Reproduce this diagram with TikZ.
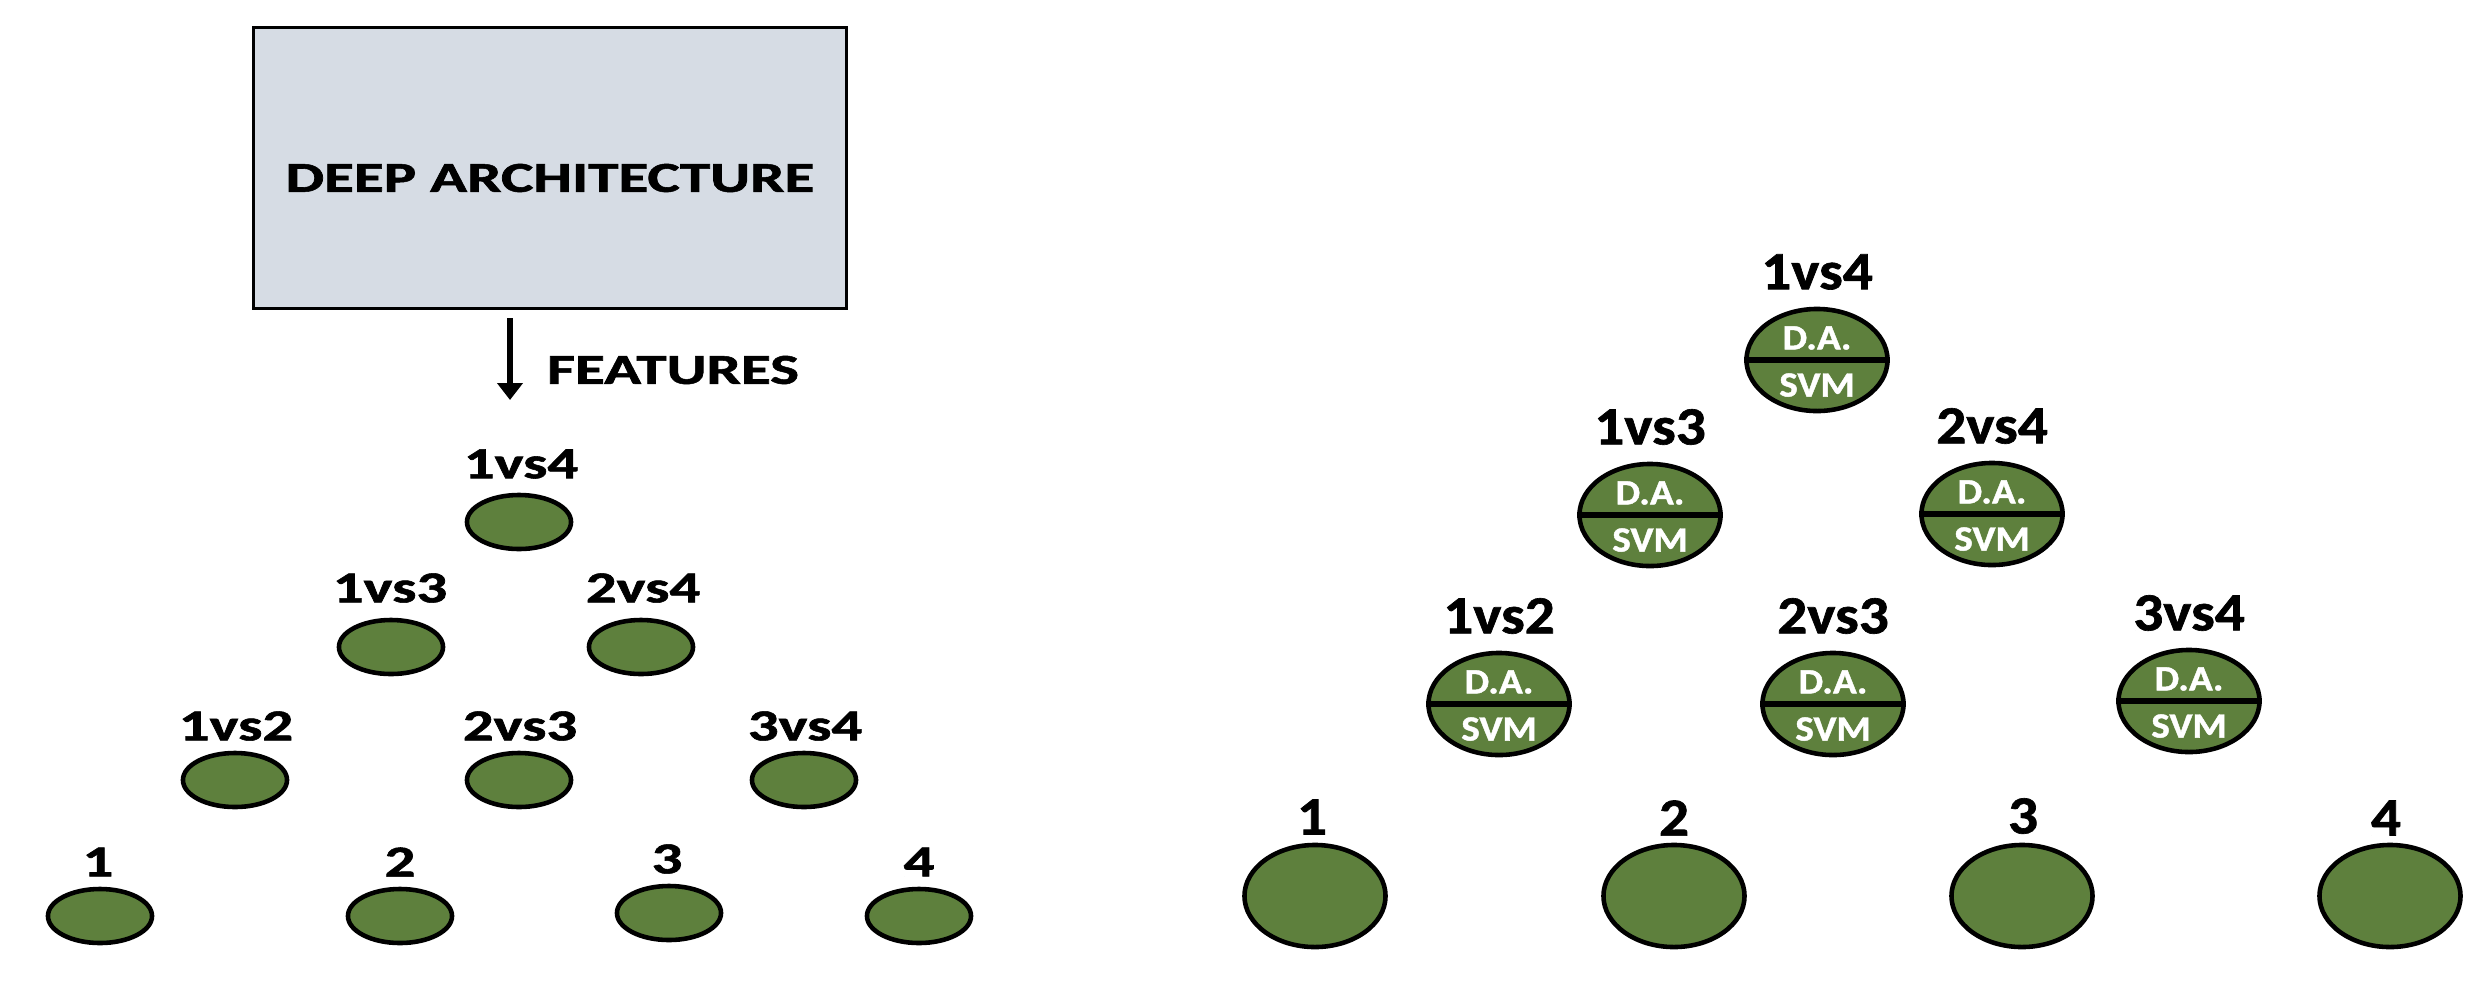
\documentclass[tikz,border=0pt]{standalone}
\usepackage{fontspec}
\setmainfont{Carlito}[BoldFeatures={FakeBold=1.2}]
\usepackage{graphicx}
\usetikzlibrary{shapes.geometric,arrows.meta}
\definecolor{leaf}{RGB}{94,128,61}
\definecolor{boxfill}{RGB}{214,220,228}
\newcommand\wideL[1]{\scalebox{1.37}[1]{#1}}
\newcommand\wideR[1]{\scalebox{1.1}[1]{#1}}
\newcommand\wideT[1]{\scalebox{1.43}[1]{#1}}
\begin{document}
\begin{tikzpicture}[x=0.01cm,y=-0.01cm,
  smallnode/.style={ellipse, draw=black, line width=1.3pt, fill=leaf, minimum width=1.04cm, minimum height=0.54cm, inner sep=0pt},
  bignode/.style={smallnode, minimum width=1.41cm, minimum height=1.02cm},
  lbl/.style={inner sep=0pt, font=\fontsize{12.6}{14}\selectfont\bfseries},
  rlbl/.style={inner sep=0pt, font=\fontsize{15.3}{18}\selectfont\bfseries},
  intext/.style={inner sep=0pt, text=white, font=\fontsize{10.1}{12}\selectfont\bfseries},
  titletext/.style={inner sep=0pt, font=\fontsize{12.15}{14}\selectfont\bfseries},
  archbox/.style={draw=black, line width=1pt, fill=boxfill, minimum width=5.93cm, minimum height=2.81cm, inner sep=0pt},
  divider/.style={line width=1.8pt},
  featarrow/.style={line width=1.7pt, -{Triangle[width=0.25cm,length=0.17cm]}}
]
\useasboundingbox (0,0) rectangle (2490,984);

% ---------- left panel ----------
\node[archbox] (arch) at (550,168) {};
\node[titletext] (archtxt) at (550,178) {\wideT{DEEP ARCHITECTURE}};
\coordinate (ftop) at (510,318);
\coordinate (fbot) at (510,400);
\draw[featarrow] (ftop) -- (fbot);
\node[titletext] (feat) at (673,370) {\wideT{FEATURES}};

\node[smallnode] (a14) at (519,522) {};
\node[smallnode] (a13) at (391,647) {};
\node[smallnode] (a24) at (641,647) {};
\node[smallnode] (a12) at (235,780) {};
\node[smallnode] (a23) at (519,780) {};
\node[smallnode] (a34) at (804,780) {};
\node[smallnode] (a1) at (100,916) {};
\node[smallnode] (a2) at (400,916) {};
\node[smallnode] (a3) at (669,913) {};
\node[smallnode] (a4) at (919,916) {};

\node[lbl] (la14) at (521,464) {\wideL{1vs4}};
\node[lbl] (la13) at (390,588) {\wideL{1vs3}};
\node[lbl] (la24) at (643,588) {\wideL{2vs4}};
\node[lbl] (la12) at (236,726) {\wideL{1vs2}};
\node[lbl] (la23) at (520,726) {\wideL{2vs3}};
\node[lbl] (la34) at (805,726) {\wideL{3vs4}};
\node[lbl] (la1) at (98,862) {\wideL{1}};
\node[lbl] (la2) at (400,862) {\wideL{2}};
\node[lbl] (la3) at (667,859) {\wideL{3}};
\node[lbl] (la4) at (919,862) {\wideL{4}};

% ---------- right panel ----------
\foreach \n/\x/\y/\t in {r14/1817/360/1vs4, r13/1650/515/1vs3, r24/1992/514/2vs4,
                          r12/1499/704/1vs2, r23/1833/704/2vs3, r34/2189/701/3vs4}{
  \node[bignode] (\n) at (\x,\y) {};
  \draw[divider] (\n.west) -- (\n.east);
  \node[intext] (\n da) at ([yshift=0.22cm]\n.center) {\wideR{D.A.}};
  \node[intext] (\n svm) at ([yshift=-0.25cm]\n.center) {\wideR{SVM}};
  \node[rlbl] (\n lbl) at ([yshift=0.88cm]\n.center) {\wideR{\t}};
}

\node[bignode] (r1) at (1315,896) {};
\node[bignode] (r2) at (1674,896) {};
\node[bignode] (r3) at (2022,896) {};
\node[bignode] (r4) at (2390,896) {};
\node[rlbl] (lr1) at (1312,817) {\wideR{1}};
\node[rlbl] (lr2) at (1674,818) {\wideR{2}};
\node[rlbl] (lr3) at (2023,816) {\wideR{3}};
\node[rlbl] (lr4) at (2386,818) {\wideR{4}};
\end{tikzpicture}
\end{document}
